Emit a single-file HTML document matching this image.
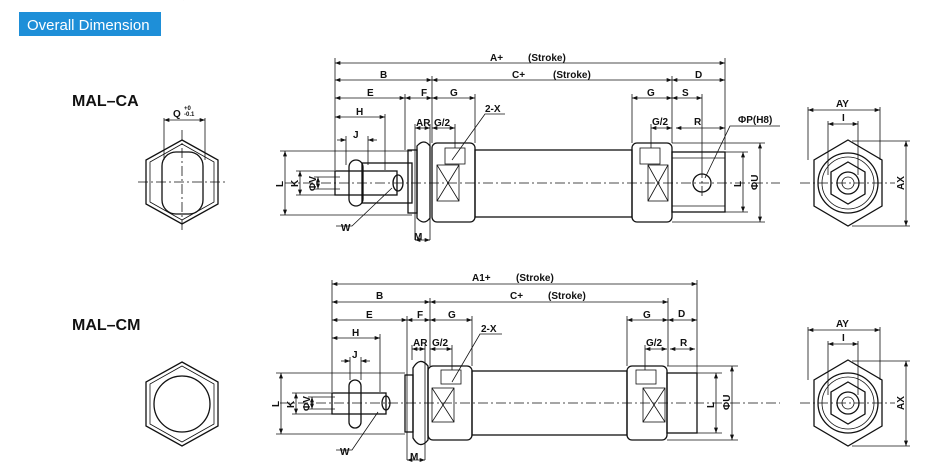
<!DOCTYPE html>
<html><head><meta charset="utf-8"><style>
html,body{margin:0;padding:0;background:#fff;}
svg{display:block;}
text{font-family:"Liberation Sans",Arial,sans-serif;font-weight:bold;fill:#111;}
.l{stroke:#111;stroke-width:1.3;fill:none;}
.t{stroke:#111;stroke-width:0.8;fill:none;}
.c{stroke:#111;stroke-width:0.8;fill:none;stroke-dasharray:10 3 2 3;}
.s{font-size:10px;}
</style></head><body>
<svg width="934" height="469" viewBox="0 0 934 469" xmlns="http://www.w3.org/2000/svg">
<defs>
<marker id="a" viewBox="0 0 8 6" refX="8" refY="3" markerWidth="7" markerHeight="5" orient="auto-start-reverse"><path d="M0,0L8,3L0,6z" fill="#111"/></marker>
</defs>
<rect x="19" y="12" width="142" height="24" fill="#1e8fd8"/>
<text x="27" y="30" style="font-size:15px;font-weight:normal;fill:#fff">Overall Dimension</text>
<text x="72" y="106" style="font-size:16px">MAL–CA</text>
<text x="72" y="330" style="font-size:16px">MAL–CM</text>

<!-- ===== TOP ===== -->
<!-- left end view -->
<g>
<polygon class="l" points="182,140 218,160 218,204 182,224 146,204 146,160"/>
<polygon class="t" points="182,144 214,162 214,202 182,220 150,202 150,162"/>
<rect class="l" x="162" y="152" width="41" height="62" rx="14"/>
<line class="c" x1="138" y1="182" x2="228" y2="182"/><line class="c" x1="182" y1="130" x2="182" y2="232"/>
<line class="t" x1="164" y1="118" x2="164" y2="160"/><line class="t" x1="205" y1="118" x2="205" y2="160"/>
<line class="t" x1="164" y1="120" x2="205" y2="120" marker-start="url(#a)" marker-end="url(#a)"/>
<text x="173" y="117" class="s">Q</text><text x="184" y="110" style="font-size:6px">+0</text><text x="184" y="116" style="font-size:6px">-0.1</text>
</g>
<!-- cylinder -->
<g>
<line class="c" x1="285" y1="183" x2="780" y2="183"/>
<rect class="l" x="335" y="171" width="62" height="24"/>
<rect class="l" x="362" y="163" width="50" height="40" />
<ellipse class="l" cx="398" cy="183" rx="5" ry="8"/>
<rect class="l" x="349" y="160" width="14" height="46" rx="7" fill="#fff"/>
<rect class="l" x="408" y="150" width="9" height="63" fill="#fff"/>
<path class="l" d="M417,146 Q424,138 430,146 L430,218 Q424,226 417,218z" fill="#fff"/>
<rect class="l" x="432" y="143" width="43" height="79" rx="5" fill="#fff"/>
<rect class="t" x="445" y="148" width="20" height="16"/>
<rect class="t" x="437" y="165" width="22" height="36"/><path class="t" d="M437,165L459,201M459,165L437,201"/>
<rect class="l" x="475" y="150" width="157" height="67"/>
<rect class="l" x="632" y="143" width="40" height="79" rx="5" fill="#fff"/>
<rect class="t" x="640" y="148" width="20" height="16"/>
<rect class="t" x="648" y="165" width="20" height="36"/><path class="t" d="M648,165L668,201M668,165L648,201"/>
<rect class="l" x="672" y="152" width="53" height="60"/>
<line class="t" x1="672" y1="158" x2="725" y2="158"/><line class="t" x1="672" y1="206" x2="725" y2="206"/>
<circle class="l" cx="702" cy="183" r="9"/>
<line class="c" x1="702" y1="168" x2="702" y2="198"/>
<line class="c" x1="183" y1="0" x2="183" y2="0"/>
<!-- dims -->
<g class="t">
<line x1="335" y1="58" x2="335" y2="170"/><line x1="725" y1="58" x2="725" y2="150"/>
<line x1="432" y1="76" x2="432" y2="143"/><line x1="672" y1="76" x2="672" y2="143"/>
<line x1="405" y1="94" x2="405" y2="150"/><line x1="475" y1="94" x2="475" y2="143"/><line x1="632" y1="94" x2="632" y2="143"/>
<line x1="702" y1="94" x2="702" y2="168"/><line x1="385" y1="114" x2="385" y2="170"/><line x1="415" y1="124" x2="415" y2="240"/><line x1="430" y1="124" x2="430" y2="240"/>
<line x1="455" y1="124" x2="455" y2="148"/><line x1="651" y1="124" x2="651" y2="148"/>
<line x1="346" y1="136" x2="346" y2="165"/><line x1="368" y1="136" x2="368" y2="165"/>
<line x1="335" y1="63" x2="725" y2="63" marker-start="url(#a)" marker-end="url(#a)"/>
<line x1="335" y1="80" x2="432" y2="80" marker-start="url(#a)" marker-end="url(#a)"/>
<line x1="432" y1="80" x2="672" y2="80" marker-start="url(#a)" marker-end="url(#a)"/>
<line x1="672" y1="80" x2="725" y2="80" marker-start="url(#a)" marker-end="url(#a)"/>
<line x1="335" y1="98" x2="405" y2="98" marker-start="url(#a)" marker-end="url(#a)"/>
<line x1="405" y1="98" x2="432" y2="98" marker-start="url(#a)" marker-end="url(#a)"/>
<line x1="432" y1="98" x2="475" y2="98" marker-start="url(#a)" marker-end="url(#a)"/>
<line x1="632" y1="98" x2="672" y2="98" marker-start="url(#a)" marker-end="url(#a)"/>
<line x1="672" y1="98" x2="702" y2="98" marker-start="url(#a)" marker-end="url(#a)"/>
<line x1="335" y1="117" x2="385" y2="117" marker-start="url(#a)" marker-end="url(#a)"/>
<line x1="415" y1="128" x2="430" y2="128" marker-start="url(#a)" marker-end="url(#a)"/>
<line x1="432" y1="128" x2="455" y2="128" marker-start="url(#a)" marker-end="url(#a)"/>
<line x1="651" y1="128" x2="672" y2="128" marker-start="url(#a)" marker-end="url(#a)"/>
<line x1="676" y1="128" x2="725" y2="128" marker-start="url(#a)" marker-end="url(#a)"/>
<line x1="337" y1="140" x2="346" y2="140" marker-end="url(#a)"/><line x1="377" y1="140" x2="368" y2="140" marker-end="url(#a)"/>
<line x1="415" y1="240" x2="430" y2="240" marker-start="url(#a)" marker-end="url(#a)"/>
<line x1="280" y1="151" x2="412" y2="151"/><line x1="280" y1="215" x2="412" y2="215"/>
<line x1="285" y1="151" x2="285" y2="215" marker-start="url(#a)" marker-end="url(#a)"/>
<line x1="296" y1="171" x2="335" y2="171"/><line x1="296" y1="195" x2="335" y2="195"/>
<line x1="300" y1="171" x2="300" y2="195" marker-start="url(#a)" marker-end="url(#a)"/>
<line x1="314" y1="177" x2="340" y2="177"/><line x1="314" y1="189" x2="340" y2="189"/>
<line x1="318" y1="177" x2="318" y2="189" marker-start="url(#a)" marker-end="url(#a)"/>
<line x1="725" y1="152" x2="748" y2="152"/><line x1="725" y1="212" x2="748" y2="212"/>
<line x1="743" y1="152" x2="743" y2="212" marker-start="url(#a)" marker-end="url(#a)"/>
<line x1="672" y1="143" x2="765" y2="143"/><line x1="672" y1="222" x2="765" y2="222"/>
<line x1="760" y1="143" x2="760" y2="222" marker-start="url(#a)" marker-end="url(#a)"/>
<polyline points="452,160 485,114 505,114"/><polyline points="336,226 352,226 392,188"/>
<polyline points="705,178 730,126 780,126"/>
</g>
<text x="490" y="61" class="s">A+</text><text x="528" y="61" class="s">(Stroke)</text>
<text x="380" y="78" class="s">B</text><text x="512" y="78" class="s">C+</text><text x="553" y="78" class="s">(Stroke)</text><text x="695" y="78" class="s">D</text>
<text x="367" y="96" class="s">E</text><text x="421" y="96" class="s">F</text><text x="450" y="96" class="s">G</text><text x="647" y="96" class="s">G</text><text x="682" y="96" class="s">S</text>
<text x="356" y="115" class="s">H</text><text x="485" y="112" class="s">2-X</text>
<text x="416" y="126" class="s">AR</text><text x="434" y="126" class="s">G/2</text><text x="652" y="125" class="s">G/2</text><text x="694" y="125" class="s">R</text><text x="738" y="123" class="s">ΦP(H8)</text>
<text x="353" y="138" class="s">J</text><text x="341" y="231" class="s">W</text><text x="414" y="240" class="s">M</text>
<text transform="translate(283,187) rotate(-90)" class="s">L</text>
<text transform="translate(298,187) rotate(-90)" class="s">K</text>
<text transform="translate(316,191) rotate(-90)" class="s">ΦV</text>
<text transform="translate(741,187) rotate(-90)" class="s">L</text>
<text transform="translate(758,190) rotate(-90)" class="s">ΦU</text>
</g>
<!-- right end view top -->
<g>
<polygon class="l" points="848,140 882,160 882,206 848,226 814,206 814,160"/>
<circle class="l" cx="848" cy="183" r="30"/><circle class="t" cx="848" cy="183" r="26"/>
<polygon class="l" points="848,162 865,172 865,194 848,204 831,194 831,172"/>
<circle class="l" cx="848" cy="183" r="11"/><circle class="t" cx="848" cy="183" r="6"/>
<line class="c" x1="800" y1="183" x2="895" y2="183"/>
<g class="t">
<line x1="808" y1="107" x2="808" y2="160"/><line x1="880" y1="107" x2="880" y2="160"/>
<line x1="808" y1="110" x2="880" y2="110" marker-start="url(#a)" marker-end="url(#a)"/>
<line x1="828" y1="121" x2="828" y2="175"/><line x1="858" y1="121" x2="858" y2="175"/>
<line x1="828" y1="124" x2="858" y2="124" marker-start="url(#a)" marker-end="url(#a)"/>
<line x1="852" y1="141" x2="910" y2="141"/><line x1="852" y1="226" x2="910" y2="226"/>
<line x1="906" y1="141" x2="906" y2="226" marker-start="url(#a)" marker-end="url(#a)"/>
</g>
<text x="836" y="107" class="s">AY</text><text x="842" y="121" class="s">I</text>
<text transform="translate(904,190) rotate(-90)" class="s">AX</text>
</g>

<!-- ===== BOTTOM ===== -->
<g>
<polygon class="l" points="182,362 218,382 218,426 182,446 146,426 146,382"/>
<polygon class="t" points="182,366 214,384 214,424 182,442 150,424 150,384"/>
<circle class="l" cx="182" cy="404" r="28"/>
</g>
<g>
<line class="c" x1="280" y1="403" x2="780" y2="403"/>
<rect class="l" x="332" y="393" width="54" height="21"/>
<ellipse class="l" cx="386" cy="403" rx="4" ry="7"/>
<rect class="l" x="349" y="380" width="12" height="48" rx="6" fill="#fff"/>
<rect class="l" x="405" y="375" width="8" height="57" fill="#fff"/>
<path class="l" d="M413,368 Q420,356 428,366 L428,440 Q420,450 413,438z" fill="#fff"/>
<rect class="l" x="428" y="366" width="44" height="74" rx="5" fill="#fff"/>
<rect class="t" x="441" y="370" width="20" height="14"/>
<rect class="t" x="432" y="388" width="22" height="34"/><path class="t" d="M432,388L454,422M454,388L432,422"/>
<rect class="l" x="472" y="371" width="155" height="64"/>
<rect class="l" x="627" y="366" width="40" height="74" rx="5" fill="#fff"/>
<rect class="t" x="636" y="370" width="20" height="14"/>
<rect class="t" x="643" y="388" width="22" height="34"/><path class="t" d="M643,388L665,422M665,388L643,422"/>
<rect class="l" x="667" y="373" width="30" height="60"/>
<g class="t">
<line x1="332" y1="280" x2="332" y2="392"/><line x1="697" y1="280" x2="697" y2="373"/>
<line x1="430" y1="298" x2="430" y2="366"/><line x1="668" y1="298" x2="668" y2="366"/>
<line x1="407" y1="316" x2="407" y2="460"/><line x1="472" y1="316" x2="472" y2="366"/><line x1="627" y1="316" x2="627" y2="366"/>
<line x1="380" y1="334" x2="380" y2="392"/><line x1="412" y1="345" x2="412" y2="360"/><line x1="425" y1="345" x2="425" y2="460"/>
<line x1="452" y1="345" x2="452" y2="370"/><line x1="645" y1="345" x2="645" y2="370"/>
<line x1="350" y1="357" x2="350" y2="380"/><line x1="361" y1="357" x2="361" y2="380"/>
<line x1="332" y1="284" x2="697" y2="284" marker-start="url(#a)" marker-end="url(#a)"/>
<line x1="332" y1="302" x2="430" y2="302" marker-start="url(#a)" marker-end="url(#a)"/>
<line x1="430" y1="302" x2="668" y2="302" marker-start="url(#a)" marker-end="url(#a)"/>
<line x1="668" y1="320" x2="697" y2="320" marker-start="url(#a)" marker-end="url(#a)"/>
<line x1="332" y1="320" x2="407" y2="320" marker-start="url(#a)" marker-end="url(#a)"/>
<line x1="407" y1="320" x2="430" y2="320" marker-start="url(#a)" marker-end="url(#a)"/>
<line x1="430" y1="320" x2="472" y2="320" marker-start="url(#a)" marker-end="url(#a)"/>
<line x1="627" y1="320" x2="668" y2="320" marker-start="url(#a)" marker-end="url(#a)"/>
<line x1="332" y1="338" x2="380" y2="338" marker-start="url(#a)" marker-end="url(#a)"/>
<line x1="412" y1="349" x2="425" y2="349" marker-start="url(#a)" marker-end="url(#a)"/>
<line x1="430" y1="349" x2="452" y2="349" marker-start="url(#a)" marker-end="url(#a)"/>
<line x1="645" y1="349" x2="667" y2="349" marker-start="url(#a)" marker-end="url(#a)"/>
<line x1="670" y1="349" x2="695" y2="349" marker-start="url(#a)" marker-end="url(#a)"/>
<line x1="341" y1="361" x2="350" y2="361" marker-end="url(#a)"/><line x1="370" y1="361" x2="361" y2="361" marker-end="url(#a)"/>
<line x1="407" y1="460" x2="425" y2="460" marker-start="url(#a)" marker-end="url(#a)"/>
<line x1="276" y1="373" x2="405" y2="373"/><line x1="276" y1="434" x2="405" y2="434"/>
<line x1="281" y1="373" x2="281" y2="434" marker-start="url(#a)" marker-end="url(#a)"/>
<line x1="292" y1="393" x2="332" y2="393"/><line x1="292" y1="414" x2="332" y2="414"/>
<line x1="296" y1="393" x2="296" y2="414" marker-start="url(#a)" marker-end="url(#a)"/>
<line x1="308" y1="397" x2="335" y2="397"/><line x1="308" y1="409" x2="335" y2="409"/>
<line x1="312" y1="397" x2="312" y2="409" marker-start="url(#a)" marker-end="url(#a)"/>
<line x1="697" y1="373" x2="722" y2="373"/><line x1="697" y1="433" x2="722" y2="433"/>
<line x1="716" y1="373" x2="716" y2="433" marker-start="url(#a)" marker-end="url(#a)"/>
<line x1="667" y1="366" x2="738" y2="366"/><line x1="667" y1="440" x2="738" y2="440"/>
<line x1="732" y1="366" x2="732" y2="440" marker-start="url(#a)" marker-end="url(#a)"/>
<polyline points="452,382 480,334 502,334"/><polyline points="336,450 352,450 378,412"/>
</g>
<text x="472" y="281" class="s">A1+</text><text x="516" y="281" class="s">(Stroke)</text>
<text x="376" y="299" class="s">B</text><text x="510" y="299" class="s">C+</text><text x="548" y="299" class="s">(Stroke)</text><text x="678" y="317" class="s">D</text>
<text x="366" y="318" class="s">E</text><text x="417" y="318" class="s">F</text><text x="448" y="318" class="s">G</text><text x="643" y="318" class="s">G</text>
<text x="352" y="336" class="s">H</text><text x="481" y="332" class="s">2-X</text>
<text x="413" y="346" class="s">AR</text><text x="432" y="346" class="s">G/2</text><text x="646" y="346" class="s">G/2</text><text x="680" y="346" class="s">R</text>
<text x="352" y="358" class="s">J</text><text x="340" y="455" class="s">W</text><text x="410" y="460" class="s">M</text>
<text transform="translate(279,407) rotate(-90)" class="s">L</text>
<text transform="translate(294,408) rotate(-90)" class="s">K</text>
<text transform="translate(310,411) rotate(-90)" class="s">ΦV</text>
<text transform="translate(714,408) rotate(-90)" class="s">L</text>
<text transform="translate(730,410) rotate(-90)" class="s">ΦU</text>
</g>
<g>
<polygon class="l" points="848,360 882,380 882,426 848,446 814,426 814,380"/>
<circle class="l" cx="848" cy="403" r="30"/><circle class="t" cx="848" cy="403" r="26"/>
<polygon class="l" points="848,382 865,392 865,414 848,424 831,414 831,392"/>
<circle class="l" cx="848" cy="403" r="11"/><circle class="t" cx="848" cy="403" r="6"/>
<line class="c" x1="800" y1="403" x2="895" y2="403"/>
<g class="t">
<line x1="808" y1="327" x2="808" y2="380"/><line x1="880" y1="327" x2="880" y2="380"/>
<line x1="808" y1="330" x2="880" y2="330" marker-start="url(#a)" marker-end="url(#a)"/>
<line x1="828" y1="341" x2="828" y2="395"/><line x1="858" y1="341" x2="858" y2="395"/>
<line x1="828" y1="344" x2="858" y2="344" marker-start="url(#a)" marker-end="url(#a)"/>
<line x1="852" y1="361" x2="910" y2="361"/><line x1="852" y1="446" x2="910" y2="446"/>
<line x1="906" y1="361" x2="906" y2="446" marker-start="url(#a)" marker-end="url(#a)"/>
</g>
<text x="836" y="327" class="s">AY</text><text x="842" y="341" class="s">I</text>
<text transform="translate(904,410) rotate(-90)" class="s">AX</text>
</g>
</svg>
</body></html>
